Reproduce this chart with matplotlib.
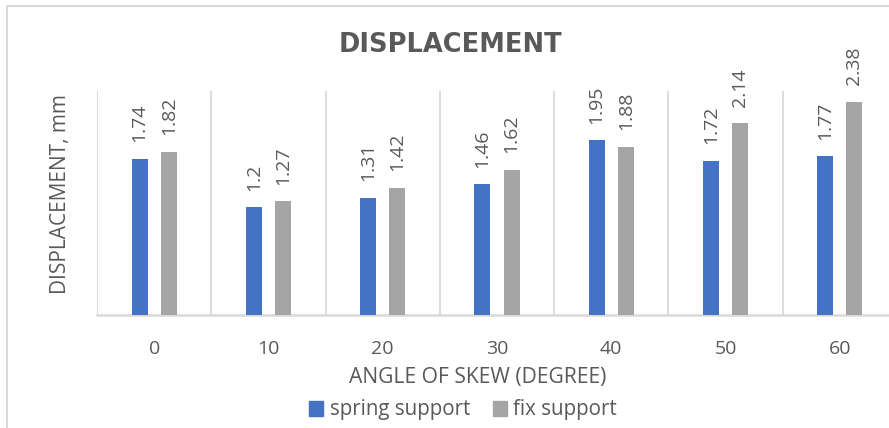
import matplotlib
matplotlib.use("Agg")
import matplotlib.pyplot as plt
import matplotlib.patches as mpatches
import numpy as np

categories = ["0", "10", "20", "30", "40", "50", "60"]
spring_support = [1.74, 1.2, 1.31, 1.46, 1.95, 1.72, 1.77]
fix_support = [1.82, 1.27, 1.42, 1.62, 1.88, 2.14, 2.38]
series_names = ["spring support", "fix support"]

BLUE = "#4472C4"
GRAY = "#A5A5A5"
TEXT = "#595959"
GRID = "#D9D9D9"
FONT = ["Open Sans", "DejaVu Sans"]

W, H = 889, 428
fig = plt.figure(figsize=(W / 100, H / 100), dpi=100)
fig.patch.set_facecolor("white")

# outer chart border (left and top visible)
fig.patches.append(mpatches.Rectangle((7 / W, -0.1), 1.2, 1 - 6 / H + 0.1,
                                      transform=fig.transFigure, fill=False,
                                      edgecolor=GRID, linewidth=1.5, zorder=0))

left, right, top, bottom = 97, 897, 91, 315
ax = fig.add_axes([left / W, 1 - bottom / H, (right - left) / W, (bottom - top) / H])
ax.set_xlim(-0.5, len(categories) - 0.5)
ax.set_ylim(0, 2.5)

x = np.arange(len(categories))
bw = 0.14
off = 0.128
ax.bar(x - off, spring_support, bw, color=BLUE, zorder=3, label=series_names[0])
ax.bar(x + off, fix_support, bw, color=GRAY, zorder=3, label=series_names[1])

for xs, vals in ((x - off, spring_support), (x + off, fix_support)):
    for xi, v in zip(xs, vals):
        ax.annotate(f"{v:g}", (xi, v), xytext=(0, 12), textcoords="offset points",
                    rotation=90, ha="center", va="bottom", fontsize=14,
                    color=TEXT, family=FONT)

# vertical gridlines between categories
for b in np.arange(-0.5, len(categories) + 0.5, 1.0):
    ax.axvline(b, color=GRID, linewidth=1.3, zorder=1)

for s in ("top", "right", "left"):
    ax.spines[s].set_visible(False)
ax.spines["bottom"].set_color(GRID)
ax.spines["bottom"].set_linewidth(1.8)
ax.set_yticks([])
ax.set_xticks(x)
ax.set_xticklabels(categories, fontsize=14, color=TEXT, family=FONT)
ax.tick_params(axis="x", length=0, pad=18)

ax.set_ylabel("DISPLACEMENT, mm", fontsize=15, color=TEXT, family=FONT)
ax.yaxis.set_label_coords(-(97 - 71) / (right - left), (bottom - 194) / (bottom - top))

fig.text(478 / W, 1 - 378 / H, "ANGLE OF SKEW (DEGREE)", ha="center", va="center",
         fontsize=15.2, color=TEXT, family=FONT)

fig.text(450 / W, 1 - 45 / H, "DISPLACEMENT", ha="center", va="center",
         fontsize=18.5, fontweight="bold", color=TEXT, family="DejaVu Sans")

handles = [mpatches.Patch(color=BLUE, label=series_names[0]),
           mpatches.Patch(color=GRAY, label=series_names[1])]
leg = fig.legend(handles=handles, loc="center", bbox_to_anchor=(463 / W, 1 - 410 / H),
                 ncol=2, frameon=False, handlelength=0.7, handleheight=0.7,
                 handletextpad=0.3, columnspacing=1.1,
                 prop={"family": FONT, "size": 14.8})
for t in leg.get_texts():
    t.set_color(TEXT)

fig.savefig("out.png", dpi=100)
